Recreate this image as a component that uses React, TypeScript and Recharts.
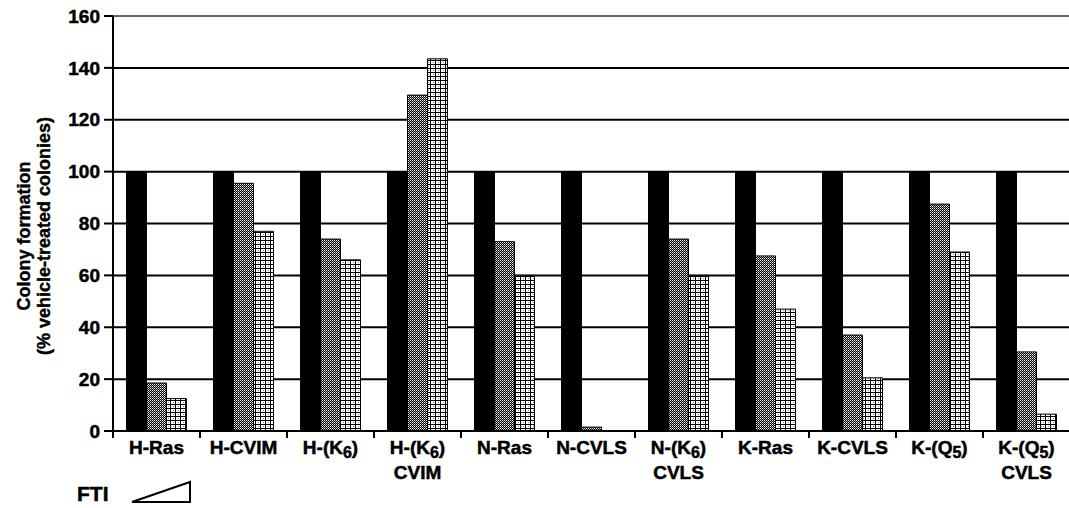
import React from 'react';
import { BarChart, Bar, XAxis, YAxis, CartesianGrid } from 'recharts';

// "_" marks a subscript digit, "\n" a second label line
const categories = [
  'H-Ras',
  'H-CVIM',
  'H-(K_6)',
  'H-(K_6)\nCVIM',
  'N-Ras',
  'N-CVLS',
  'N-(K_6)\nCVLS',
  'K-Ras',
  'K-CVLS',
  'K-(Q_5)',
  'K-(Q_5)\nCVLS'
];
const noFti = [100, 100, 100, 100, 100, 100, 100, 100, 100, 100, 100];
const lowFti = [18.5, 95.5, 74, 129.5, 73, 1.5, 74, 67.5, 37, 87.5, 30.5];
const highFti = [12.5, 77, 66, 143.5, 60, 0, 60, 47, 20.5, 69, 6.5];
const yTicks = [0, 20, 40, 60, 80, 100, 120, 140, 160];

const data = categories.map((name, i) => ({
  name,
  none: noFti[i],
  low: lowFti[i],
  high: highFti[i]
}));

const FONT = '"Liberation Sans", Arial, Helvetica, sans-serif';
const WIDTH = 1070;
const HEIGHT = 508;
const LEFT = 113;
const BAND = (WIDTH - LEFT) / categories.length;

const renderFirstLine = (text: string) => {
  const m = text.match(/^(.*)_(\d)(.*)$/);
  if (!m) return text;
  return (
    <>
      {m[1]}
      <tspan fontSize={16} dy={4}>{m[2]}</tspan>
      <tspan dy={-4}>{m[3]}</tspan>
    </>
  );
};

const labelText = {
  fontFamily: FONT,
  fontWeight: 'bold' as const,
  fontSize: 19,
  fill: '#000',
  stroke: '#000',
  strokeWidth: 0.5
};

const CategoryTick = (props: any) => {
  const { x, payload } = props;
  const axisY = HEIGHT - 77;
  const [first, second] = String(payload.value).split('\n');
  return (
    <g>
      <line x1={x - BAND / 2} x2={x - BAND / 2} y1={axisY} y2={axisY + 7} stroke="#000" strokeWidth={2} />
      <text x={x} y={axisY + 23} textAnchor="middle" {...labelText}>
        {renderFirstLine(first)}
      </text>
      {second && (
        <text x={x} y={axisY + 48} textAnchor="middle" {...labelText}>
          {second}
        </text>
      )}
    </g>
  );
};

const YLabel = () => {
  const cy = 236;
  return (
    <g fontFamily={FONT} fontWeight="bold" fontSize={18} fill="#000" stroke="#000" strokeWidth={0.4}>
      <text x={0} y={0} textAnchor="middle" transform={`translate(30, ${cy}) rotate(-90)`}>
        Colony formation
      </text>
      <text x={0} y={0} textAnchor="middle" transform={`translate(50, ${cy}) rotate(-90)`}>
        (% vehicle-treated colonies)
      </text>
    </g>
  );
};

const GridLine = (props: any) => (
  <line
    key={`grid-${props.index}`}
    x1={props.x1}
    x2={props.x2}
    y1={props.y1}
    y2={props.y2}
    stroke={props.y1 < 30 ? '#666' : '#000'}
    strokeWidth={2}
  />
);

export default function App() {
  return (
    <div style={{ position: 'absolute', left: 0, top: 0, background: '#fff' }}>
      <BarChart
        width={WIDTH}
        height={HEIGHT}
        data={data}
        margin={{ top: 16, right: 0, left: 0, bottom: 0 }}
        barGap={0}
        barCategoryGap="15.5%"
      >
        <defs>
          <pattern id="dots" width="2" height="2" patternUnits="userSpaceOnUse">
            <rect width="2" height="2" fill="#000" />
            <rect x="0" y="0" width="1" height="1" fill="#fff" />
            <rect x="1" y="1" width="1" height="1" fill="#999" />
          </pattern>
          <pattern id="ladder" width="5" height="4" patternUnits="userSpaceOnUse">
            <rect width="5" height="4" fill="#fff" />
            <rect x="0" y="0" width="1" height="4" fill="#000" />
            <rect x="0" y="0" width="5" height="1" fill="#000" />
            <rect x="3" y="2" width="1" height="1" fill="#888" />
          </pattern>
        </defs>
        <CartesianGrid vertical={false} horizontal={GridLine} />
        <XAxis
          dataKey="name"
          interval={0}
          height={77}
          tickLine={false}
          axisLine={{ stroke: '#000', strokeWidth: 2 }}
          tick={<CategoryTick />}
        />
        <YAxis
          width={LEFT}
          domain={[0, 160]}
          ticks={yTicks}
          interval={0}
          tickSize={9}
          tickMargin={4}
          axisLine={{ stroke: '#000', strokeWidth: 2 }}
          tickLine={{ stroke: '#000', strokeWidth: 2 }}
          tick={{ ...labelText, fontSize: 19 }}
          label={{ content: <YLabel /> }}
        />
        <Bar dataKey="none" fill="#000" stroke="#000" strokeWidth={1} isAnimationActive={false} />
        <Bar dataKey="low" fill="url(#dots)" stroke="#000" strokeWidth={1} isAnimationActive={false} />
        <Bar dataKey="high" fill="url(#ladder)" stroke="#000" strokeWidth={1} isAnimationActive={false} />
      </BarChart>
      <svg width={220} height={40} style={{ position: 'absolute', left: 0, top: HEIGHT - 40 }}>
        <text x={77} y={33} {...labelText} fontSize={21}>
          FTI
        </text>
        <polygon points="132,34 190,14 190,34" fill="none" stroke="#000" strokeWidth={2} strokeLinejoin="miter" />
      </svg>
    </div>
  );
}
